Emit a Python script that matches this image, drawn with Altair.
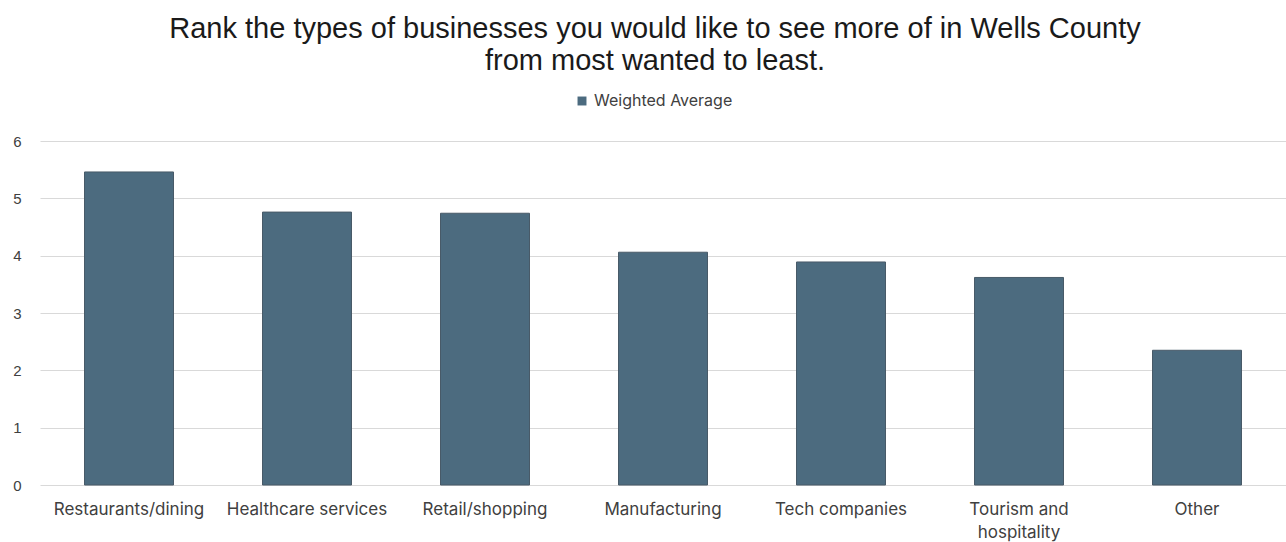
import altair as alt
import pandas as pd

categories = ["Restaurants/dining", "Healthcare services", "Retail/shopping",
              "Manufacturing", "Tech companies", "Tourism and hospitality", "Other"]
values = [5.46, 4.76, 4.74, 4.06, 3.89, 3.62, 2.35]
series_name = "Weighted Average"
title_lines = ["Rank the types of businesses you would like to see more of in Wells County",
               "from most wanted to least."]

df = pd.DataFrame({"category": categories, "value": values, "series": series_name})

bar_color = "#4c6b7f"

chart = alt.Chart(df).mark_bar(color=bar_color, stroke="#485a68", strokeWidth=1).encode(
    x=alt.X("category:N", sort=categories, title=None,
            scale=alt.Scale(paddingInner=0.5, paddingOuter=0.25),
            axis=alt.Axis(labelAngle=0, labelFontSize=17, labelColor="#404040",
                          labelFont="Inter", labelPadding=16, ticks=False,
                          domain=False, grid=False, labelLineHeight=23,
                          labelExpr="datum.label == 'Tourism and hospitality' ? ['Tourism and', 'hospitality'] : datum.label")),
    y=alt.Y("value:Q", title=None, scale=alt.Scale(domain=[0, 6]),
            axis=alt.Axis(values=[0, 1, 2, 3, 4, 5, 6], labelFontSize=15, labelColor="#404040",
                          labelFont="Liberation Sans", labelPadding=19, ticks=False,
                          domain=False, gridColor="#d9d9d9", gridWidth=1)),
    color=alt.Color("series:N", scale=alt.Scale(range=[bar_color]), title=None,
                    legend=alt.Legend(orient="none", legendX=534, legendY=-48,
                                      symbolType="square", symbolSize=80,
                                      labelFontSize=16, labelColor="#404040",
                                      labelFont="Inter", symbolStrokeWidth=0)),
).properties(
    width=1246, height=344,
    title=alt.TitleParams(title_lines, fontSize=29, font="Liberation Sans", fontWeight="normal",
                          color="#1a1a1a", anchor="middle", lineHeight=32, offset=17, dx=-8),
    padding={"left": 40, "top": 141, "right": 0, "bottom": 57},
    autosize=alt.AutoSizeParams(type="none"),
).configure_view(stroke=None)

chart.save("out.html", embed_options={"renderer": "svg", "actions": False})
